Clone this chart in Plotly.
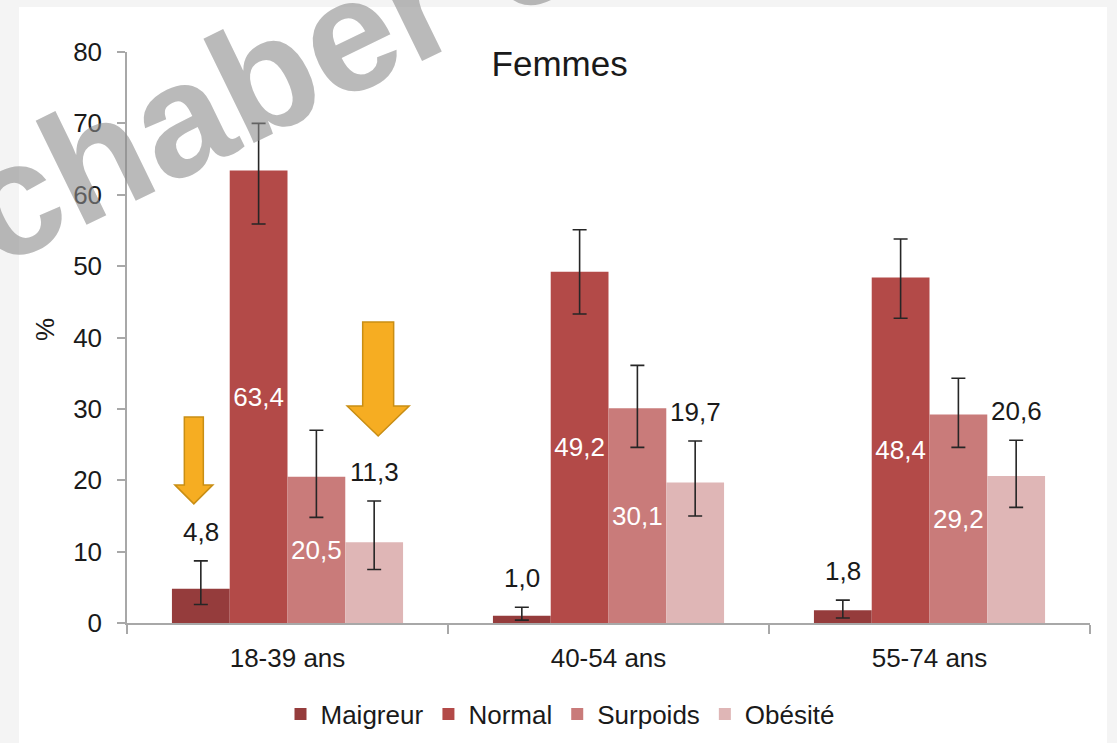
import plotly.graph_objects as go

# ---- data -------------------------------------------------------------
age_groups = ["18-39 ans", "40-54 ans", "55-74 ans"]
series_names = ["Maigreur", "Normal", "Surpoids", "Obésité"]

maigreur = [4.8, 1.0, 1.8]
normal = [63.4, 49.2, 48.4]
surpoids = [20.5, 30.1, 29.2]
obesite = [11.3, 19.7, 20.6]

# 95 % confidence bounds
maigreur_hi = [8.7, 2.2, 3.2]
maigreur_lo = [2.6, 0.4, 0.7]
normal_hi = [70.0, 55.1, 53.8]
normal_lo = [55.9, 43.3, 42.7]
surpoids_hi = [27.0, 36.1, 34.3]
surpoids_lo = [14.8, 24.6, 24.6]
obesite_hi = [17.1, 25.5, 25.6]
obesite_lo = [7.5, 15.0, 16.2]

y_ticks = [0, 10, 20, 30, 40, 50, 60, 70, 80]

# ---- styling ----------------------------------------------------------
FONT = "Liberation Sans, Arial, sans-serif"
TXT = 26
COLORS = ["#953c3c", "#b34a48", "#c97b7a", "#dfb6b6"]
AXIS_COLOR = "#a8a8a8"
ERR_COLOR = "#262626"

W, H = 1117, 743
M_L, M_R, M_T, M_B = 127, 27, 52, 120
PLOT_W = W - M_L - M_R
PLOT_H = H - M_T - M_B
Y_MIN, Y_MAX = 0, 80
X_MIN, X_MAX = -0.5, len(age_groups) - 0.5
Y_PER_PX = (Y_MAX - Y_MIN) / PLOT_H
X_PER_PX = (X_MAX - X_MIN) / PLOT_W

BAR_W = 0.18
n_series = len(series_names)


def bar_x(series_idx):
    off = (series_idx - (n_series - 1) / 2) * BAR_W
    return [i + off for i in range(len(age_groups))]


def fmt(v):
    return f"{v:.1f}".replace(".", ",")


def paper_x(px):
    return (px - M_L) / PLOT_W


def paper_y(py):
    return (M_T + PLOT_H - py) / PLOT_H


values = [maigreur, normal, surpoids, obesite]
highs = [maigreur_hi, normal_hi, surpoids_hi, obesite_hi]
lows = [maigreur_lo, normal_lo, surpoids_lo, obesite_lo]
inside_label = [False, True, True, False]

fig = go.Figure()

for k, name in enumerate(series_names):
    vals = values[k]
    err_up = [h - v for h, v in zip(highs[k], vals)]
    err_dn = [v - l for v, l in zip(vals, lows[k])]
    bar_kwargs = {}
    if inside_label[k]:
        bar_kwargs = dict(
            text=[fmt(v) for v in vals],
            textposition="inside",
            insidetextanchor="middle",
            textangle=0,
            insidetextfont=dict(family=FONT, size=TXT, color="white"),
        )
    fig.add_trace(
        go.Bar(
            x=bar_x(k),
            y=vals,
            width=BAR_W,
            name=name,
            marker=dict(color=COLORS[k], line=dict(width=0)),
            error_y=dict(
                type="data",
                symmetric=False,
                array=err_up,
                arrayminus=err_dn,
                color=ERR_COLOR,
                thickness=1.6,
                width=7,
            ),
            **bar_kwargs,
        )
    )

annotations = []

# value labels above the confidence interval
for k in range(n_series):
    if inside_label[k]:
        continue
    for x, v, hi in zip(bar_x(k), values[k], highs[k]):
        annotations.append(
            dict(
                x=x, y=hi, xref="x", yref="y",
                text=fmt(v), showarrow=False,
                yshift=29, xanchor="center", yanchor="middle",
                font=dict(family=FONT, size=TXT, color="#1a1a1a"),
            )
        )

# y-axis title
annotations.append(
    dict(
        x=paper_x(45), y=paper_y(330), xref="paper", yref="paper",
        text="%", showarrow=False, textangle=-90,
        xanchor="center", yanchor="middle",
        font=dict(family=FONT, size=TXT, color="#1a1a1a"),
    )
)

# watermark
annotations.append(
    dict(
        x=paper_x(268), y=paper_y(75),
        xref="paper", yref="paper",
        text="<b>chaber c</b>", showarrow=False, textangle=-26,
        xanchor="center", yanchor="middle",
        font=dict(family=FONT, size=160, color="rgba(140,140,140,0.6)"),
    )
)

shapes = []

# white card behind the chart
shapes.append(
    dict(
        type="rect", xref="paper", yref="paper", layer="below",
        x0=paper_x(19), x1=paper_x(1107),
        y0=paper_y(H), y1=paper_y(7),
        fillcolor="white", line=dict(width=0),
    )
)


def down_arrow(xc, tip, length_px, head_px, shaft_half_px, head_half_px):
    """Closed SVG path of a downward block arrow in data units."""
    top = tip + length_px * Y_PER_PX
    base = tip + head_px * Y_PER_PX
    s = shaft_half_px * X_PER_PX
    h = head_half_px * X_PER_PX
    pts = [
        (xc - s, top), (xc + s, top), (xc + s, base), (xc + h, base),
        (xc, tip), (xc - h, base), (xc - s, base),
    ]
    return "M " + " L ".join(f"{px:.4f},{py:.3f}" for px, py in pts) + " Z"


# highlight arrows on the 18-39 Maigreur and Obésité bars
arrow_specs = [
    # series index, x shift px, gap above CI px, length, head, shaft half, head half
    (0, -7, 57, 87, 19, 9.5, 19),
    (3, 4, 65, 114, 30, 15.5, 31),
]
for k, dx_px, gap_px, length, head, sh, hh in arrow_specs:
    xc = bar_x(k)[0] + dx_px * X_PER_PX
    tip = highs[k][0] + gap_px * Y_PER_PX
    shapes.append(
        dict(
            type="path", xref="x", yref="y", layer="above",
            path=down_arrow(xc, tip, length, head, sh, hh),
            fillcolor="#f6ad22", line=dict(color="#c98e14", width=1.5),
        )
    )

fig.update_layout(
    width=W, height=H,
    margin=dict(l=M_L, r=M_R, t=M_T, b=M_B, autoexpand=False),
    paper_bgcolor="#f4f4f4",
    plot_bgcolor="rgba(0,0,0,0)",
    font=dict(family=FONT, color="#1a1a1a"),
    barmode="overlay",
    showlegend=True,
    title=dict(
        text="Femmes", x=0.501, xanchor="center",
        y=1 - 64 / H, yanchor="middle",
        font=dict(family=FONT, size=35, color="#1a1a1a"),
    ),
    legend=dict(
        orientation="h", x=paper_x(560), xanchor="center",
        y=paper_y(714), yanchor="middle",
        font=dict(family=FONT, size=TXT, color="#1a1a1a"),
        bgcolor="rgba(0,0,0,0)", itemwidth=30, traceorder="normal",
    ),
    xaxis=dict(
        range=[X_MIN, X_MAX],
        tickmode="array", tickvals=list(range(len(age_groups))),
        ticktext=age_groups, ticks="",
        tickfont=dict(family=FONT, size=TXT, color="#1a1a1a"),
        ticklabelstandoff=11,
        showline=True, linecolor=AXIS_COLOR, linewidth=1.5,
        showgrid=False, zeroline=False, fixedrange=True,
        minor=dict(
            tickmode="array",
            tickvals=[i - 0.5 for i in range(len(age_groups) + 1)],
            ticks="outside", ticklen=9, tickwidth=1.5, tickcolor=AXIS_COLOR,
            showgrid=False,
        ),
    ),
    yaxis=dict(
        range=[Y_MIN, Y_MAX],
        tickmode="array", tickvals=y_ticks,
        ticks="outside", ticklen=8, tickwidth=1.5, tickcolor=AXIS_COLOR,
        tickfont=dict(family=FONT, size=TXT, color="#1a1a1a"),
        ticklabelstandoff=10,
        showline=True, linecolor=AXIS_COLOR, linewidth=1.5,
        showgrid=False, zeroline=False, fixedrange=True,
    ),
    annotations=annotations,
    shapes=shapes,
)

fig.write_html("out.html")
